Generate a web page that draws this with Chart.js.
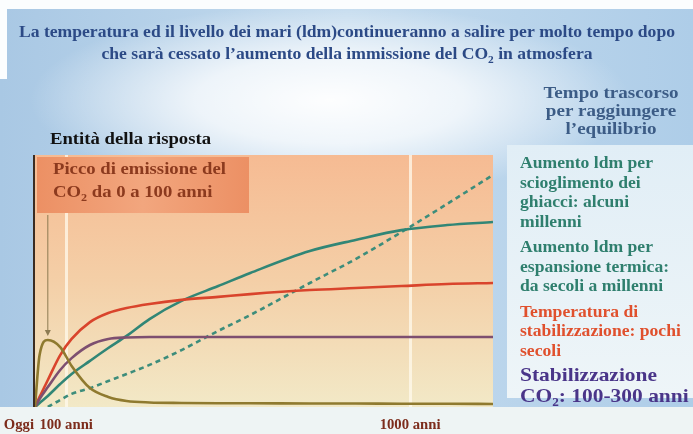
<!DOCTYPE html>
<html>
<head>
<meta charset="utf-8">
<script src="https://cdn.jsdelivr.net/npm/chart.js@4"></script>
<style>
  html, body { margin: 0; padding: 0; background: #ffffff; }
  canvas { display: block; }
</style>
</head>
<body>
<canvas id="c" width="693" height="434"></canvas>
<script>
// Horizontal position (0 = today, 100 = right edge of the time axis)
const xGrid = [0, 1, 2.8, 5.5, 8, 12, 16, 20, 25, 32, 40, 47, 60, 70, 80, 90, 100];

// Response magnitude of each quantity (0 = none, 100 = top of plot)
const emissionY = [0, 20.6, 26.6, 23.8, 16.3, 7.5, 4.0, 2.4, 1.8, 1.6, 1.5, 1.5, 1.4, 1.4, 1.3, 1.3, 1.2];
const co2Y      = [0, 3.2, 7.9, 14.7, 19.4, 24.6, 27.0, 27.6, 27.8, 27.8, 27.8, 27.8, 27.8, 27.8, 27.8, 27.8, 27.8];
const tempY     = [0, 4.0, 10.7, 20.6, 27.0, 33.7, 37.3, 39.3, 40.9, 42.5, 43.7, 44.8, 46.4, 47.2, 48.0, 48.8, 49.2];
const thermalY  = [0, 1.6, 4.4, 9.1, 13.1, 18.3, 23.4, 28.2, 34.9, 42.1, 48.0, 53.2, 61.9, 66.3, 70.2, 72.2, 73.4];
const iceY      = [null, null, 0, 2.8, 5.2, 7.5, 10.3, 13.1, 16.7, 22.6, 30.2, 36.5, 49.2, 58.7, 69.4, 80.6, 92.1];

// Time axis labels
const tickLabels = ['Oggi', '100 anni', '1000 anni'];
const tickX = [0, 6.8, 81.9];

// Texts
const titleLine1 = [['La temperatura ed il livello dei mari (ldm)continueranno a salire per molto tempo dopo']];
const titleLine2 = [['che sarà cessato l’aumento della immissione del CO'], ['2', 'sub'], [' in atmosfera']];
const yTitle = [['Entità della risposta']];
const panelTitle = ['Tempo trascorso', 'per raggiungere', 'l’equilibrio'];
const peakNote = [[['Picco di emissione del']], [['CO'], ['2', 'sub'], [' da 0 a 100 anni']]];
const panelGroups = [
  { color: '#2f7f6e', size: 16, sx: 1.1, step: 19.5, lines: [[['Aumento ldm per']], [['scioglimento dei']], [['ghiacci: alcuni']], [['millenni']]] },
  { color: '#2f7f6e', size: 16, sx: 1.1, step: 19.5, lines: [[['Aumento ldm per']], [['espansione termica:']], [['da secoli a millenni']]] },
  { color: '#e0502d', size: 16, sx: 1.1, step: 19.5, lines: [[['Temperatura di']], [['stabilizzazione: pochi']], [['secoli']]] },
  { color: '#4a3589', size: 19.5, sx: 1.1, step: 21, lines: [[['Stabilizzazione']], [['CO'], ['2', 'sub'], [': 100-300 anni']]] }
];

const SERIF = '"Liberation Serif", "DejaVu Serif", serif';

function pts(ys) { return xGrid.map((x, i) => ({ x: x, y: ys[i] })); }

// Draw a line of text made of runs (some subscripts), stretched horizontally by sx
function richText(ctx, runs, x, y, size, align, sx) {
  sx = sx || 1;
  const big = 'bold ' + size + 'px ' + SERIF;
  const small = 'bold ' + Math.round(size * 0.62) + 'px ' + SERIF;
  let total = 0;
  runs.forEach(r => { ctx.font = r[1] === 'sub' ? small : big; total += ctx.measureText(r[0]).width; });
  let start = x;
  if (align === 'center') start = x - total * sx / 2;
  else if (align === 'right') start = x - total * sx;
  ctx.save();
  ctx.translate(start, y);
  ctx.scale(sx, 1);
  ctx.textAlign = 'left';
  ctx.textBaseline = 'alphabetic';
  let cx = 0;
  runs.forEach(r => {
    const sub = r[1] === 'sub';
    ctx.font = sub ? small : big;
    ctx.fillText(r[0], cx, sub ? size * 0.22 : 0);
    cx += ctx.measureText(r[0]).width;
  });
  ctx.restore();
}

const decor = {
  id: 'decor',
  beforeDraw(chart) {
    const ctx = chart.ctx;
    const a = chart.chartArea;
    const W = chart.width, H = chart.height;
    ctx.save();
    // page backdrop: pale blue with a bright haze in the middle
    const bg = ctx.createLinearGradient(0, 0, W, 0);
    bg.addColorStop(0, '#a9c8e4');
    bg.addColorStop(0.5, '#c4dbee');
    bg.addColorStop(1, '#aecde8');
    ctx.fillStyle = bg;
    ctx.fillRect(0, 0, W, H);
    ctx.save();
    ctx.translate(330, 100);
    ctx.scale(1, 0.32);
    const haze = ctx.createRadialGradient(0, 0, 0, 0, 0, 300);
    haze.addColorStop(0, 'rgba(255,255,255,0.97)');
    haze.addColorStop(0.45, 'rgba(255,255,255,0.75)');
    haze.addColorStop(1, 'rgba(255,255,255,0)');
    ctx.fillStyle = haze;
    ctx.fillRect(-360, -330, 720, 660);
    ctx.restore();
    ctx.fillStyle = '#fbfdfe';
    ctx.fillRect(0, 0, W, 9);
    ctx.fillRect(0, 9, 7, 70);
    // bottom strip under the time axis
    ctx.fillStyle = '#eef4f4';
    ctx.fillRect(0, a.bottom, W, H - a.bottom);
    // right-hand panel
    const pg = ctx.createLinearGradient(0, 145, 0, 398);
    pg.addColorStop(0, '#e1eef6');
    pg.addColorStop(1, '#eef5f8');
    ctx.fillStyle = pg;
    ctx.fillRect(507, 145, W - 507, 253);
    // plot background
    const og = ctx.createLinearGradient(0, a.top, 0, a.bottom);
    og.addColorStop(0, '#f6bb93');
    og.addColorStop(0.5, '#f4cfa7');
    og.addColorStop(1, '#f2e9c7');
    ctx.fillStyle = og;
    ctx.fillRect(a.left, a.top, a.right - a.left, a.bottom - a.top);
    // pale guides at 100 and 1000 years
    const xs = chart.scales.x;
    ctx.strokeStyle = 'rgba(255,250,236,0.75)';
    ctx.lineWidth = 3;
    [tickX[1], tickX[2]].forEach(v => {
      const px = Math.round(xs.getPixelForValue(v)) + 0.5;
      ctx.beginPath();
      ctx.moveTo(px, a.top);
      ctx.lineTo(px, a.bottom);
      ctx.stroke();
    });
    // note box about the emission peak
    const bx = a.left + 2, by = a.top + 2, bw = 212, bh = 56;
    const bgBox = ctx.createLinearGradient(bx, 0, bx + bw, 0);
    bgBox.addColorStop(0, '#ec9064');
    bgBox.addColorStop(0.5, '#f2a67e');
    bgBox.addColorStop(1, '#ec9064');
    ctx.fillStyle = bgBox;
    ctx.fillRect(bx, by, bw, bh);
    ctx.fillStyle = '#8c3a1e';
    richText(ctx, peakNote[0], 53, 174, 17, 'left', 1.1);
    richText(ctx, peakNote[1], 53, 197, 17, 'left', 1.1);
    // arrow from the box down to the emission peak
    const ys = chart.scales.y;
    const ax = xs.getPixelForValue(xGrid[2]);
    const ay = ys.getPixelForValue(emissionY[2]) - 4;
    ctx.strokeStyle = '#8d7b52';
    ctx.fillStyle = '#8d7b52';
    ctx.lineWidth = 1;
    ctx.beginPath();
    ctx.moveTo(ax, by + bh + 2);
    ctx.lineTo(ax, ay - 3);
    ctx.stroke();
    ctx.beginPath();
    ctx.moveTo(ax - 3, ay - 6);
    ctx.lineTo(ax + 3, ay - 6);
    ctx.lineTo(ax, ay);
    ctx.closePath();
    ctx.fill();
    ctx.restore();
  },
  afterDraw(chart) {
    const ctx = chart.ctx;
    const a = chart.chartArea;
    const xs = chart.scales.x;
    ctx.save();
    // vertical response axis
    ctx.strokeStyle = '#3b2c22';
    ctx.lineWidth = 2;
    ctx.beginPath();
    ctx.moveTo(a.left - 1, a.top);
    ctx.lineTo(a.left - 1, a.bottom);
    ctx.stroke();
    // titles
    ctx.fillStyle = '#2c4a86';
    richText(ctx, titleLine1, 347, 37, 17, 'center', 1.035);
    richText(ctx, titleLine2, 347, 59, 17, 'center', 1.035);
    ctx.fillStyle = '#111111';
    richText(ctx, yTitle, 50, 144, 17, 'left', 1.1);
    ctx.fillStyle = '#3c5c86';
    panelTitle.forEach((t, i) => richText(ctx, [[t]], 611, 98 + i * 18, 17, 'center', 1.12));
    // panel captions
    let y = 168;
    panelGroups.forEach(g => {
      ctx.fillStyle = g.color;
      g.lines.forEach(ln => {
        richText(ctx, ln, 520, y, g.size, 'left', g.sx);
        y += g.step;
      });
      y += 6;
    });
    // time axis labels
    ctx.fillStyle = '#7c2c1c';
    tickLabels.forEach((t, i) => {
      const px = xs.getPixelForValue(tickX[i]);
      if (i === 0) richText(ctx, [[t]], px - 1, 429, 14, 'right', 1.05);
      else richText(ctx, [[t]], px, 429, 14, 'center', 1.05);
    });
    ctx.restore();
  }
};

const common = { pointRadius: 0, borderWidth: 2.6, fill: false, cubicInterpolationMode: 'monotone' };

new Chart(document.getElementById('c'), {
  type: 'line',
  data: {
    datasets: [
      Object.assign({ label: 'Emissione CO2', data: pts(emissionY), borderColor: '#8f7a2f' }, common),
      Object.assign({ label: 'Stabilizzazione CO2', data: pts(co2Y), borderColor: '#7d4f70' }, common),
      Object.assign({ label: 'Temperatura', data: pts(tempY), borderColor: '#d9442c' }, common),
      Object.assign({ label: 'Espansione termica', data: pts(thermalY), borderColor: '#318676' }, common),
      Object.assign({ label: 'Scioglimento ghiacci', data: pts(iceY), borderColor: '#3d8d7b', borderDash: [5, 4], borderWidth: 2.4 }, common)
    ]
  },
  options: {
    responsive: false,
    animation: false,
    layout: { padding: { left: 35, right: 200, top: 155, bottom: 27 } },
    plugins: { legend: { display: false }, tooltip: { enabled: false } },
    scales: {
      x: { type: 'linear', min: 0, max: 100, display: false },
      y: { min: 0, max: 100, display: false }
    }
  },
  plugins: [decor]
});
</script>
</body>
</html>
